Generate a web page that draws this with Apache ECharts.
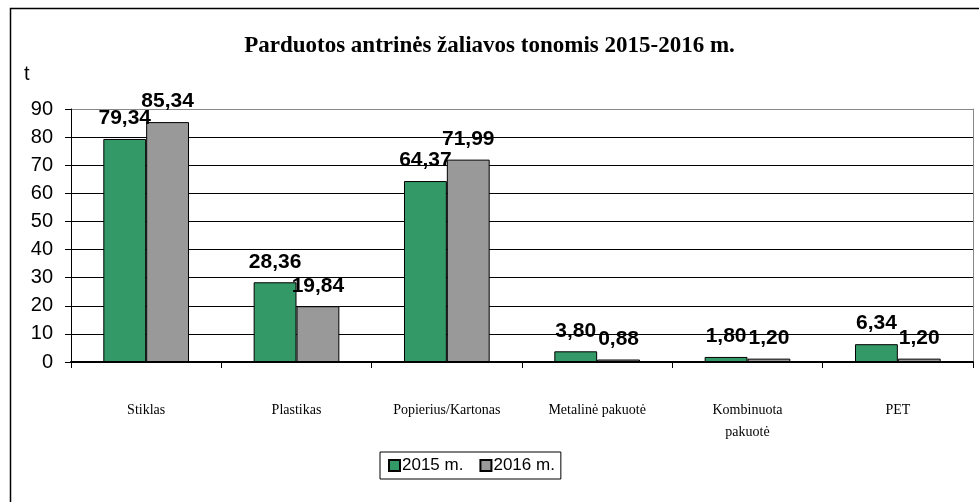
<!DOCTYPE html>
<html>
<head>
<meta charset="utf-8">
<script src="https://cdn.jsdelivr.net/npm/echarts@6/dist/echarts.min.js"></script>
<style>
  html, body { margin: 0; padding: 0; background: #fff; }
  #chart { width: 979px; height: 502px; }
</style>
</head>
<body>
<div id="chart"></div>
<script>
// Duomenys
const kategorijos = ['Stiklas', 'Plastikas', 'Popierius/Kartonas', 'Metalinė pakuotė', 'Kombinuota\npakuotė', 'PET'];
const metai2015 = [79.34, 28.36, 64.37, 3.80, 1.80, 6.34];
const metai2016 = [85.34, 19.84, 71.99, 0.88, 1.20, 1.20];
const serijos = ['2015 m.', '2016 m.'];

const chart = echarts.init(document.getElementById('chart'));

const zyme = {
  show: true,
  position: 'top',
  distance: 10,
  color: '#000',
  fontFamily: 'Liberation Sans, Arial, sans-serif',
  fontWeight: 'bold',
  fontSize: 21,
  formatter: p => p.value.toFixed(2).replace('.', ',')
};

const option = {
  animation: false,
  backgroundColor: '#fff',
  title: {
    text: 'Parduotos antrinės žaliavos tonomis 2015-2016 m.',
    left: 'center',
    top: 30,
    textStyle: {
      fontFamily: 'Liberation Serif, Times New Roman, serif',
      fontWeight: 'bold',
      fontSize: 23,
      color: '#000'
    }
  },
  graphic: [
    {
      type: 'rect',
      shape: { x: 10.5, y: 8.5, width: 990, height: 520 },
      style: { fill: 'none', stroke: '#000', lineWidth: 1.5 },
      silent: true
    },
    {
      type: 'text',
      left: 24,
      top: 64,
      style: { text: 't', font: '20px "Liberation Sans", Arial, sans-serif', fill: '#000' }
    }
  ],
  legend: {
    data: serijos,
    left: 380,
    top: 452,
    itemWidth: 11,
    itemHeight: 11,
    itemGap: 16,
    padding: [5, 6, 5, 8],
    borderColor: '#000',
    borderWidth: 1,
    icon: 'rect',
    textStyle: {
      fontFamily: 'Liberation Sans, Arial, sans-serif',
      fontSize: 17,
      color: '#000',
      padding: [0, 0, 0, -3]
    }
  },
  grid: { left: 71, right: 6, top: 109, bottom: 140 },
  xAxis: {
    type: 'category',
    data: kategorijos,
    axisLine: { lineStyle: { color: '#000', width: 2 } },
    axisTick: { show: true, length: 6, lineStyle: { color: '#000' } },
    axisLabel: {
      color: '#000',
      fontFamily: 'Liberation Serif, Times New Roman, serif',
      fontSize: 14,
      margin: 37,
      lineHeight: 22,
      interval: 0
    }
  },
  yAxis: [
    {
      type: 'value',
      min: 0,
      max: 90,
      interval: 10,
      axisLine: { show: true, lineStyle: { color: '#000' } },
      axisTick: { show: true, length: 6, lineStyle: { color: '#000' } },
      axisLabel: {
        color: '#000',
        fontFamily: 'Liberation Sans, Arial, sans-serif',
        fontSize: 20,
        margin: 18
      },
      splitLine: {
        lineStyle: {
          color: ['#000', '#000', '#000', '#000', '#000', '#000', '#000', '#000', '#000', '#888'],
          width: 1
        }
      }
    },
    {
      type: 'value',
      position: 'right',
      min: 0,
      max: 90,
      interval: 10,
      axisLine: { show: true, lineStyle: { color: '#888' } },
      axisTick: { show: false },
      axisLabel: { show: false },
      splitLine: { show: false }
    }
  ],
  series: [
    {
      name: serijos[0],
      type: 'bar',
      data: metai2015,
      barGap: '0%',
      barCategoryGap: '43%',
      itemStyle: { color: '#339966', borderColor: '#000', borderWidth: 1 },
      label: zyme
    },
    {
      name: serijos[1],
      type: 'bar',
      data: metai2016,
      itemStyle: { color: '#999999', borderColor: '#000', borderWidth: 1 },
      label: zyme
    }
  ]
};

chart.setOption(option);
</script>
</body>
</html>
